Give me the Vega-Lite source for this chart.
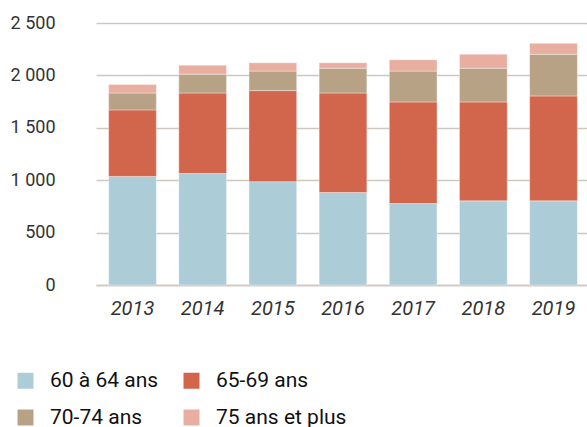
{
  "$schema": "https://vega.github.io/schema/vega-lite/v6.json",
  "autosize": {"type": "none"},
  "padding": {"left": 96, "top": 23, "right": 0, "bottom": 142},
  "width": 494,
  "height": 262,
  "background": "white",
  "config": {
    "font": "Roboto",
    "view": {"stroke": null}
  },
  "data": {
    "values": [
      {"annee": "2013", "age": "60 à 64 ans", "o": 1, "v": 1036},
      {"annee": "2013", "age": "65-69 ans", "o": 2, "v": 635},
      {"annee": "2013", "age": "70-74 ans", "o": 3, "v": 161},
      {"annee": "2013", "age": "75 ans et plus", "o": 4, "v": 80},
      {"annee": "2014", "age": "60 à 64 ans", "o": 1, "v": 1064},
      {"annee": "2014", "age": "65-69 ans", "o": 2, "v": 768},
      {"annee": "2014", "age": "70-74 ans", "o": 3, "v": 180},
      {"annee": "2014", "age": "75 ans et plus", "o": 4, "v": 86},
      {"annee": "2015", "age": "60 à 64 ans", "o": 1, "v": 986},
      {"annee": "2015", "age": "65-69 ans", "o": 2, "v": 869},
      {"annee": "2015", "age": "70-74 ans", "o": 3, "v": 186},
      {"annee": "2015", "age": "75 ans et plus", "o": 4, "v": 79},
      {"annee": "2016", "age": "60 à 64 ans", "o": 1, "v": 882},
      {"annee": "2016", "age": "65-69 ans", "o": 2, "v": 950},
      {"annee": "2016", "age": "70-74 ans", "o": 3, "v": 237},
      {"annee": "2016", "age": "75 ans et plus", "o": 4, "v": 51},
      {"annee": "2017", "age": "60 à 64 ans", "o": 1, "v": 777},
      {"annee": "2017", "age": "65-69 ans", "o": 2, "v": 970},
      {"annee": "2017", "age": "70-74 ans", "o": 3, "v": 294},
      {"annee": "2017", "age": "75 ans et plus", "o": 4, "v": 108},
      {"annee": "2018", "age": "60 à 64 ans", "o": 1, "v": 803},
      {"annee": "2018", "age": "65-69 ans", "o": 2, "v": 944},
      {"annee": "2018", "age": "70-74 ans", "o": 3, "v": 322},
      {"annee": "2018", "age": "75 ans et plus", "o": 4, "v": 133},
      {"annee": "2019", "age": "60 à 64 ans", "o": 1, "v": 803},
      {"annee": "2019", "age": "65-69 ans", "o": 2, "v": 1001},
      {"annee": "2019", "age": "70-74 ans", "o": 3, "v": 398},
      {"annee": "2019", "age": "75 ans et plus", "o": 4, "v": 104}
    ]
  },
  "mark": {"type": "bar", "stroke": "white", "strokeWidth": 0.6, "strokeOpacity": 0.6},
  "encoding": {
    "x": {
      "field": "annee",
      "type": "ordinal",
      "scale": {"paddingInner": 0.32, "paddingOuter": 0.18},
      "axis": {
        "title": null,
        "labelAngle": 0,
        "ticks": false,
        "domain": true,
        "domainColor": "#cdc8c0",
        "domainWidth": 1.5,
        "labelFontSize": 20,
        "labelFontStyle": "italic",
        "labelColor": "#333333",
        "labelPadding": 13
      }
    },
    "y": {
      "field": "v",
      "type": "quantitative",
      "stack": "zero",
      "scale": {"domain": [0, 2500], "nice": false},
      "axis": {
        "title": null,
        "values": [0, 500, 1000, 1500, 2000, 2500],
        "labelExpr": "replace(format(datum.value, ','), ',', ' ')",
        "ticks": false,
        "domain": false,
        "grid": true,
        "gridColor": "#cdc8c0",
        "gridWidth": 1.5,
        "labelFontSize": 18,
        "labelColor": "#333333",
        "labelPadding": 41
      }
    },
    "color": {
      "field": "age",
      "type": "nominal",
      "scale": {
        "domain": ["60 à 64 ans", "65-69 ans", "70-74 ans", "75 ans et plus"],
        "range": ["#accdd7", "#d2664c", "#b8a285", "#e8aea0"]
      },
      "legend": {
        "title": null,
        "orient": "none",
        "legendX": -81,
        "legendY": 347,
        "direction": "horizontal",
        "columns": 2,
        "symbolType": "square",
        "symbolSize": 256,
        "symbolStrokeWidth": 0,
        "symbolOpacity": 1,
        "labelFontSize": 21,
        "labelColor": "#111111",
        "labelOffset": 14,
        "columnPadding": 22,
        "rowPadding": 15,
        "labelLimit": 300
      }
    },
    "order": {"field": "o", "type": "quantitative"}
  }
}
